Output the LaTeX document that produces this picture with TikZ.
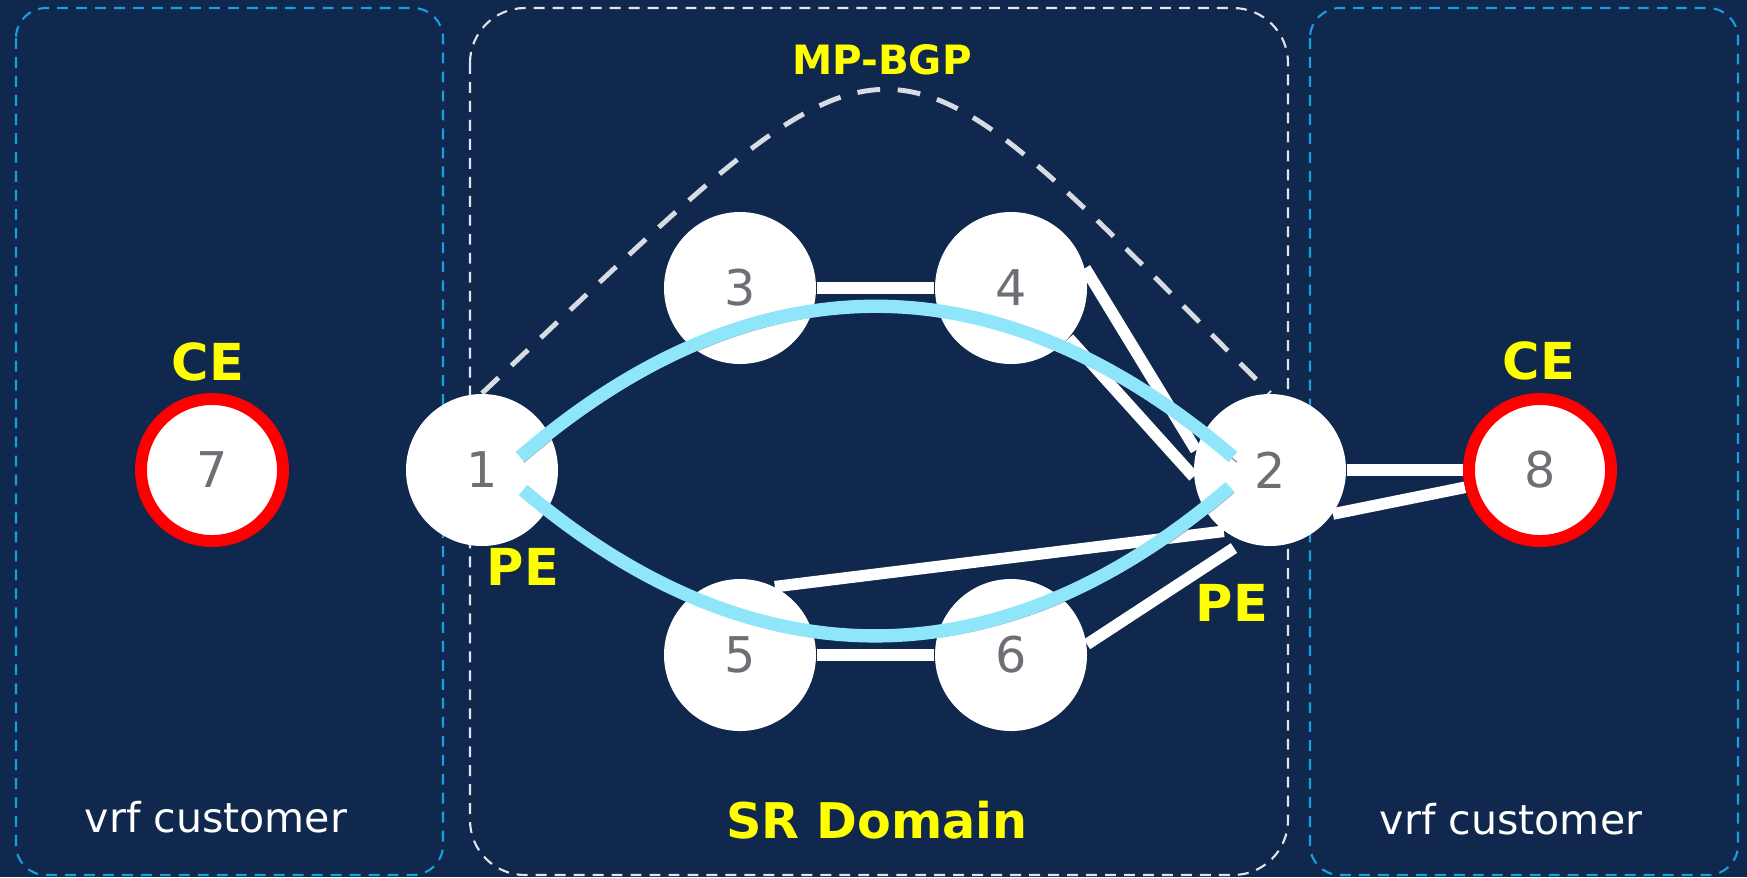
\documentclass[tikz,border=0pt]{standalone}
\usepackage{fontspec}
\setmainfont{DejaVu Sans}
\usetikzlibrary{calc}

\definecolor{navy}{RGB}{16,40,78}
\definecolor{boxblue}{RGB}{22,160,220}
\definecolor{boxwhite}{RGB}{225,228,235}
\definecolor{dashgray}{RGB}{215,219,226}
\definecolor{pathblue}{RGB}{143,230,250}
\definecolor{digitgray}{RGB}{110,110,116}
\definecolor{tagyellow}{RGB}{255,255,0}

\pgfdeclarelayer{back}
\pgfdeclarelayer{links}
\pgfsetlayers{back,links,main}

\tikzset{
  router/.style={circle, fill=white, minimum size=15.2mm, inner sep=0pt,
    text=digitgray, font=\fontsize{14}{16}\selectfont},
  cerouter/.style={router, draw=red, line width=3.4pt, minimum size=14.2mm},
  link/.style={white, line width=3.3pt},
  srpath/.style={pathblue, line width=3.8pt,
    preaction={draw=black, draw opacity=.4, transform canvas={shift={(1.1pt,-1.5pt)}}}},
  tag/.style={text=tagyellow, font=\bfseries\fontsize{14.5}{17}\selectfont},
  zone/.style={line width=.6pt, dash pattern=on 3.1pt off 2.3pt},
}

\begin{document}
\begin{tikzpicture}[x=1mm,y=-1mm]
    \useasboundingbox (0,0) rectangle (174.7,87.7);

    % Fondo y zonas
    \begin{pgfonlayer}{back}
        \fill[navy] (0,0) rectangle (174.7,87.7);
        \draw[zone, boxblue, rounded corners=3mm] (1.6,0.8) rectangle (44.3,87.5);
        \draw[zone, boxwhite, rounded corners=5.5mm] (47,0.8) rectangle (128.8,87.5);
        \draw[zone, boxblue, rounded corners=3mm] (131,0.8) rectangle (173.8,87.5);
    \end{pgfonlayer}

    % Routers
    \node[cerouter] (n7) at (21.2,47) {7};
    \node[router] (n1) at (48.2,47) {1};
    \node[router] (n3) at (74,28.8) {3};
    \node[router] (n4) at (101.1,28.8) {4};
    \node[router] (n5) at (74,65.5) {5};
    \node[router] (n6) at (101.1,65.5) {6};
    \node[router] (n2) at (127,47) {2};
    \node[cerouter] (n8) at (154,47) {8};
    \coordinate (e62) at (123.4,54.8);

    % Enlaces
    \begin{pgfonlayer}{links}
        \draw[link] (n3) -- (n4);
        \draw[link] (n5) -- (n6);
        \draw[link] (n4.15) -- (n2.165);
        \draw[link] (n4.-41) -- (n2.185);
        \draw[link] (n5.63) -- (n2.233);
        \draw[link] (n6.8) -- (e62);
        \draw[link] (n2) -- (n8);
        \draw[link] (n2.-35) -- (n8.193);

        % Sesion MP-BGP
        \draw[dashgray, line width=1.4pt, dash pattern=on 6.5pt off 5pt]
            (n1.north) .. controls (91.3,-1.2) and (86.6,-1.2) .. (n2.north);
    \end{pgfonlayer}

    % Caminos SR
    \draw[srpath] ($(n1)+(3.8,-1.3)$) .. controls (75.3,25.6) and (99.8,25.6) .. ($(n2)+(-3.7,-1.3)$);
    \draw[srpath] ($(n1)+(4.1,2)$) .. controls (75.3,68.5) and (100,68.5) .. ($(n2)+(-4,1.7)$);

    % Etiquetas
    \node[tag] (ce7) at (20.8,36.2) {CE};
    \node[tag] (ce8) at (153.9,36.1) {CE};
    \node[tag] (pe1) at (52.3,56.7) {PE};
    \node[tag] (pe2) at (123.2,60.3) {PE};
    \node[tag, font=\bfseries\fontsize{11.5}{14}\selectfont] (bgp) at (88.2,6) {MP-BGP};
    \node[tag, font=\bfseries\fontsize{14}{17}\selectfont] (srd) at (87.7,82) {SR Domain};
    \node[white, font=\fontsize{11.7}{14}\selectfont] (vrfl) at (21.6,81.7) {vrf customer};
    \node[white, font=\fontsize{11.7}{14}\selectfont] (vrfr) at (151.1,81.9) {vrf customer};
\end{tikzpicture}
\end{document}
